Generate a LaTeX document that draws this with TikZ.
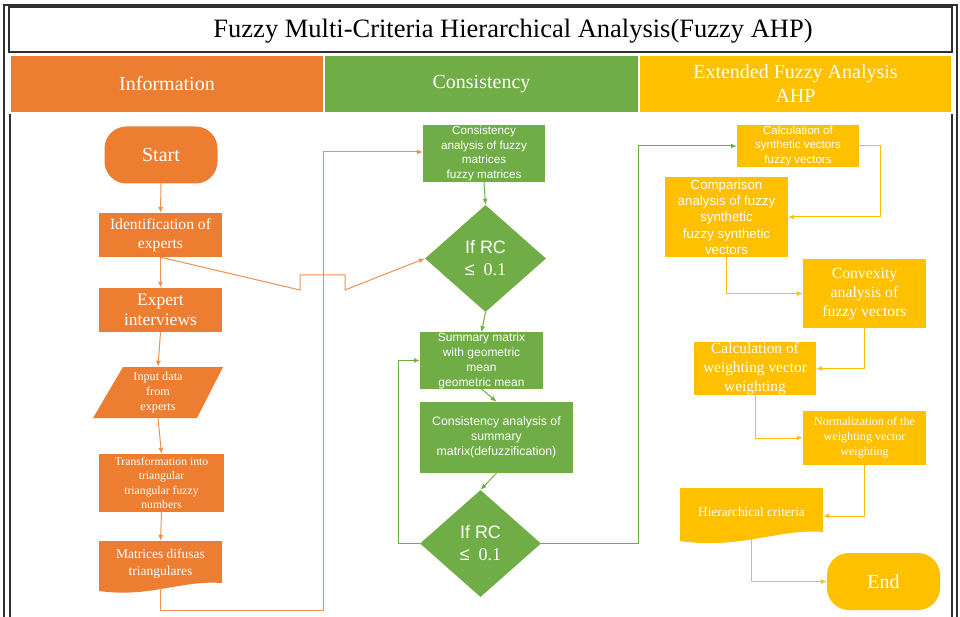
\documentclass[tikz,border=0pt]{standalone}
\usepackage{fontspec}
\setmainfont{Liberation Serif}
\newfontfamily\arialf{Liberation Sans}
\usetikzlibrary{arrows.meta,shapes.geometric,calc}
\definecolor{OrangeC}{HTML}{ED7D31}
\definecolor{GreenC}{HTML}{70AD47}
\definecolor{YellowC}{HTML}{FFC000}
\definecolor{FrameC}{HTML}{303030}
\newcommand{\fsz}[2]{\fontsize{#1}{#2}\selectfont}
\begin{document}
\begin{tikzpicture}[x=1pt,y=-1pt,
  box/.style={rectangle, inner sep=0pt, align=center, text=white},
  obox/.style={box, fill=OrangeC},
  gbox/.style={box, fill=GreenC},
  ybox/.style={box, fill=YellowC},
  plainbox/.style={box},
  hdr/.style={rectangle, inner sep=0pt, align=center, text=white, font=\fsz{20}{24}, minimum height=56pt},
  dia/.style={diamond, fill=GreenC, inner sep=0pt, align=center, text=white, minimum width=121pt, minimum height=107pt, aspect=1.13, font=\fsz{18}{22}},
  stadium/.style={box, rounded corners=22pt, minimum width=113pt, minimum height=57pt, font=\fsz{20}{24}},
  tip/.style={-{Latex[length=6pt,width=5pt]}},
  oline/.style={draw=OrangeC!85, line width=1pt, tip},
  gline/.style={draw=GreenC, line width=1pt, tip},
  yline/.style={draw=YellowC, line width=1pt, tip},
  frame/.style={draw=FrameC, line width=1.2pt}
]
\useasboundingbox (0,0) rectangle (960,617);

% frame
\draw[frame] (4,625) -- (4,5) -- (957,5) -- (957,625);
\draw[frame] (10,114) -- (10,625);
\draw[frame] (952,114) -- (952,625);
\node[draw=FrameC, line width=1.2pt, minimum width=943pt, minimum height=45pt, inner sep=0pt] (titlebox) at (480.5,29.5) {};
\node[font=\fsz{26.5}{30}, inner sep=0pt] (title) at (513,31) {Fuzzy Multi-Criteria Hierarchical Analysis(Fuzzy AHP)};

% headers
\node[hdr, fill=OrangeC, minimum width=312pt] (h1) at (167,84) {Information};
\node[hdr, fill=GreenC, minimum width=313pt] (h2) at (481.5,84) {Consistency};
\node[hdr, fill=YellowC, minimum width=311pt] (h3) at (795.5,84) {Extended Fuzzy Analysis\\AHP};

% special shape fills
\fill[OrangeC] (123,367) -- (223,367) -- (197,418) -- (93,418) -- cycle;
\fill[OrangeC] (99,541) -- (222,541) -- (222,583) .. controls (180,580) and (150,598) .. (99,591) -- cycle;
\fill[YellowC] (680,488) -- (823,488) -- (823,532) .. controls (780,528) and (740,550) .. (680,541) -- cycle;

% left column
\node[stadium, fill=OrangeC] (start) at (161,155) {Start};
\node[obox, minimum width=123pt, minimum height=44pt, font=\fsz{15.6}{19}] (ident) at (160.5,235) {Identification of\\experts};
\node[obox, minimum width=123pt, minimum height=44pt, font=\fsz{17.5}{20}] (expint) at (160.5,310) {Expert\\interviews};
\node[plainbox, minimum width=100pt, minimum height=51pt, font=\fsz{12.2}{15}] (inp) at (158,392.5) {Input data\\from\\experts};
\node[obox, minimum width=125pt, minimum height=58pt, font=\fsz{11.7}{14.5}] (trans) at (161.5,483) {Transformation into\\triangular\\triangular fuzzy\\numbers};
\node[plainbox, minimum width=123pt, minimum height=46pt, font=\fsz{13.5}{17}] (matr) at (160.5,564) {Matrices difusas\\triangulares};

% middle column
\node[gbox, minimum width=122pt, minimum height=57pt, font=\arialf\fsz{11.7}{14.5}] (cons1) at (484,153.5) {Consistency\\analysis of fuzzy\\matrices\\fuzzy matrices};
\node[dia] (dia1) at (485.5,258.5) {{\arialf If RC}\\{\arialf ≤}\enspace 0.1};
\node[gbox, minimum width=123pt, minimum height=55pt, font=\arialf\fsz{12}{15}] (summ) at (481.5,360.5) {Summary matrix\\with geometric\\mean\\geometric mean};
\node[gbox, minimum width=153pt, minimum height=71pt, font=\arialf\fsz{12.3}{15}] (cons2) at (496.5,437.5) {Consistency analysis of\\summary\\matrix(defuzzification)};
\node[dia] (dia2) at (480.5,543.5) {{\arialf If RC}\\{\arialf ≤}\enspace 0.1};

% right column
\node[ybox, minimum width=122pt, minimum height=42pt, font=\arialf\fsz{11.5}{14.8}] (synth) at (798,146) {Calculation of\\synthetic vectors\\fuzzy vectors};
\node[ybox, minimum width=123pt, minimum height=80pt, font=\arialf\fsz{13.3}{16.3}] (comp) at (726.5,217) {Comparison\\analysis of fuzzy\\synthetic\\fuzzy synthetic\\vectors};
\node[ybox, minimum width=123pt, minimum height=69pt, font=\fsz{15.7}{19}] (conv) at (864.5,293.5) {Convexity\\analysis of\\fuzzy vectors};
\node[ybox, minimum width=122pt, minimum height=53pt, font=\fsz{15.4}{19}] (calw) at (755,368.5) {Calculation of\\weighting vector\\weighting};
\node[ybox, minimum width=123pt, minimum height=54pt, font=\fsz{12.1}{15}] (norm) at (864.5,438) {Normalization of the\\weighting vector\\weighting};
\node[plainbox, minimum width=143pt, minimum height=48pt, font=\fsz{13.3}{16}] (hier) at (751.5,512) {Hierarchical criteria};
\node[stadium, fill=YellowC] (endn) at (883.5,581.5) {End};

% connectors left
\draw[oline] (start.south) -- (ident.north);
\draw[oline] (ident.south) -- (expint.north);
\draw[oline] (expint.south) -- (inp.north);
\draw[oline] (inp.south) -- (trans.north);
\draw[oline] (trans.south) -- (matr.north);
\coordinate (lb) at (323,610);
\coordinate (lt) at (323,152);
\draw[oline] (matr.south) |- (lb) -- (lt) -- (cons1.west |- lt);
\coordinate (j1) at (300,290);
\coordinate (j2) at (300,275);
\coordinate (j3) at (345,275);
\coordinate (j4) at (345,290);
\draw[oline] (ident.south) -- (j1) -- (j2) -- (j3) -- (j4) -- (dia1.west);

% connectors middle
\draw[gline] (cons1.south) -- (dia1.north);
\draw[gline] (dia1.south) -- (summ.north);
\draw[gline] (summ.south) -- (cons2.north);
\draw[gline] (cons2.south) -- (dia2.north);
\coordinate (fb) at (398,543.5);
\draw[gline] (dia2.west) -- (fb) |- (summ.west);
\coordinate (gc) at (638,146);
\draw[gline] (dia2.east) -| (gc) -- (synth.west);

% connectors right
\coordinate (yc) at (880,146);
\draw[yline] (synth.east) -- (yc) |- (comp.east);
\draw[yline] (comp.south) |- (conv.west);
\draw[yline] (conv.south) |- (calw.east);
\draw[yline] (calw.south) |- (norm.west);
\draw[yline] (norm.south) |- ($(hier.east)+(0,4)$);
\draw[yline] (hier.south) |- (endn.west);
\end{tikzpicture}
\end{document}
